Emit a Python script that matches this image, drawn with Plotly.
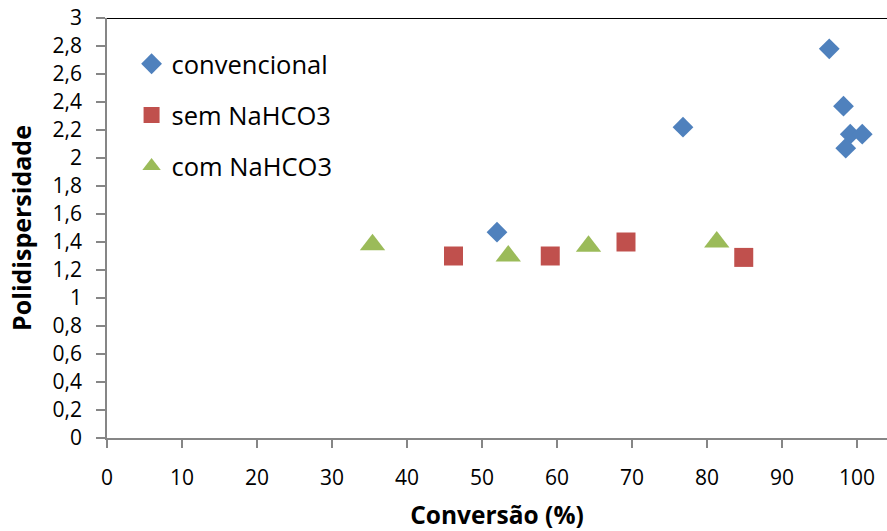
import plotly.graph_objects as go

# Data
conv_x = [52.0, 76.8, 96.3, 98.2, 99.1, 100.7, 98.5]
conv_y = [1.47, 2.22, 2.78, 2.37, 2.17, 2.17, 2.07]
sem_x = [46.2, 59.1, 69.2, 84.9]
sem_y = [1.30, 1.30, 1.40, 1.29]
com_x = [35.4, 53.5, 64.2, 81.3]
com_y = [1.38, 1.30, 1.37, 1.40]

series_names = ["convencional", "sem NaHCO3", "com NaHCO3"]

FONT = "Open Sans"
AXIS_GRAY = "#868686"

fig = go.Figure()
fig.add_trace(go.Scatter(
    x=conv_x, y=conv_y, mode="markers", name=series_names[0], legendgroup="a",
    marker=dict(symbol="diamond", size=16, color="#4F81BD"),
))
fig.add_trace(go.Scatter(
    x=sem_x, y=sem_y, mode="markers", name=series_names[1], legendgroup="b",
    marker=dict(symbol="square", size=19, color="#C0504D"),
))
fig.add_trace(go.Scatter(
    x=com_x, y=com_y, mode="markers", name=series_names[2], legendgroup="c",
    marker=dict(symbol="triangle-up", size=22, color="#9BBB59"),
))

fig.update_layout(
    width=887, height=531,
    margin=dict(l=107, r=0, t=18, b=93),
    paper_bgcolor="white", plot_bgcolor="white",
    separators=",.",
    font=dict(family=FONT, size=22, color="black"),
    showlegend=True,
    legend=dict(
        x=0.0315, y=0.946, xanchor="left", yanchor="top",
        bgcolor="rgba(0,0,0,0)", font=dict(family=FONT, size=25.5),
        traceorder="grouped", tracegroupgap=15, itemsizing="trace",
    ),
    shapes=[dict(type="line", xref="paper", yref="y", x0=0, x1=1, y0=3, y1=3,
                 line=dict(color="black", width=2))],
)

fig.update_xaxes(
    range=[0, 104], tick0=0, dtick=10, showgrid=False, zeroline=False,
    automargin=False, ticklabeloverflow="allow",
    showline=True, linecolor=AXIS_GRAY, linewidth=1.5,
    ticks="outside", ticklen=8, tickcolor=AXIS_GRAY, tickwidth=1.5,
    ticklabelstandoff=12,
    tickfont=dict(family=FONT, size=21),
    title=dict(text="<b>Conversão (%)</b>", font=dict(family=FONT, size=24.5), standoff=18),
)
fig.update_yaxes(
    range=[0, 3], tick0=0, dtick=0.2, showgrid=False, zeroline=False,
    automargin=False, ticklabeloverflow="allow",
    showline=True, linecolor=AXIS_GRAY, linewidth=1.5,
    ticks="outside", ticklen=9, tickcolor=AXIS_GRAY, tickwidth=1.5,
    ticklabelstandoff=10,
    tickfont=dict(family=FONT, size=21),
    title=dict(text="<b>Polidispersidade</b>", font=dict(family=FONT, size=25), standoff=14),
)

fig.write_html("out.html", config={"displayModeBar": False},
               post_script="document.body.style.margin='0';")
